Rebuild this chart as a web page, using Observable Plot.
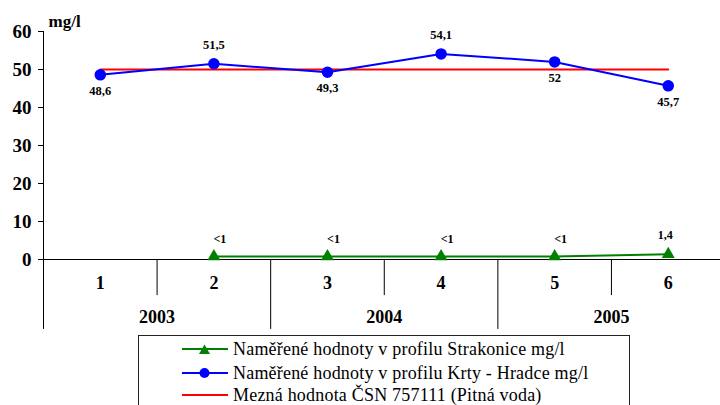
<!DOCTYPE html>
<html>
<head>
<meta charset="utf-8">
<script src="https://cdn.jsdelivr.net/npm/d3@7"></script>
<script src="https://cdn.jsdelivr.net/npm/@observablehq/plot@0.6"></script>
<style>
  html, body { margin: 0; padding: 0; background: #fff; overflow: hidden; }
  #wrap { position: relative; width: 720px; height: 405px; }
  #legend {
    position: absolute; left: 138px; top: 335px; width: 490px; height: 80px;
    border: 1px solid #222; background: #fff;
    font-family: "Liberation Serif", "Times New Roman", serif; font-size: 18px; letter-spacing: 0.2px; color: #000;
  }
  .row { position: absolute; left: 43px; height: 22px; display: flex; align-items: center; white-space: nowrap; }
  .row svg { margin-right: 5px; }
</style>
</head>
<body>
<div id="wrap"></div>
<script>
// ---- data ----
const categories = [1, 2, 3, 4, 5, 6];
const years = ["2003", "2004", "2005"];
const yearCenters = [1.5, 3.5, 5.5];
const shortSeparators = [1.5, 3.5, 5.5];
const longSeparators = [0.5, 2.5, 4.5];

const greenCats = [2, 3, 4, 5, 6];
const greenValues = [0.8, 0.8, 0.8, 0.8, 1.4];
const greenLabels = ["<1", "<1", "<1", "<1", "1,4"];

const blueValues = [48.6, 51.5, 49.3, 54.1, 52, 45.7];
const blueLabelAbove = [false, true, false, true, false, false];

const redValues = [50, 50, 50, 50, 50, 50];

const yTicks = [0, 10, 20, 30, 40, 50, 60];

const legendItems = [
  "Naměřené hodnoty v profilu Strakonice mg/l",
  "Naměřené hodnoty v profilu Krty - Hradce mg/l",
  "Mezná hodnota ČSN 757111 (Pitná voda)"
];

// ---- tables ----
const green = greenCats.map((c, i) => ({x: c, y: greenValues[i], label: greenLabels[i]}));
const blue = categories.map((c, i) => ({x: c, y: blueValues[i], label: String(blueValues[i]).replace(".", ","), above: blueLabelAbove[i]}));
const red = categories.map((c, i) => ({x: c, y: redValues[i]}));
const yearData = years.map((y, i) => ({x: yearCenters[i], label: y}));

const serif = "'Liberation Serif', 'Times New Roman', serif";
const GREEN = "#008000", BLUE = "#0000ff", RED = "#ff0000";

const chart = Plot.plot({
  width: 720,
  height: 335,
  marginLeft: 43,
  marginRight: 0,
  marginTop: 31,
  marginBottom: 76,
  style: {fontFamily: serif, background: "#fff", color: "#000"},
  x: {type: "linear", domain: [0.5, 6.46], axis: null},
  y: {domain: [0, 60], axis: null},
  marks: [
    Plot.axisY({ticks: yTicks, label: null, tickSize: 5, tickPadding: 7, fontSize: 19, fontWeight: "bold", tickFormat: d => d, stroke: "#000"}),
    // y axis line (extends down as the outer category separator)
    Plot.ruleX([0.5], {y1: 60, y2: -18.4, stroke: "#000", strokeWidth: 1}),
    // x axis baseline
    Plot.ruleY([0], {x1: 0.5, x2: 6.46, stroke: "#000", strokeWidth: 1.2}),
    // separators
    Plot.ruleX(shortSeparators, {y1: 0, y2: -9.5, stroke: "#000"}),
    Plot.ruleX(longSeparators.slice(1), {y1: 0, y2: -18.4, stroke: "#000"}),
    // category labels
    Plot.text(categories, {x: d => d, y: () => 0, dy: 24, text: d => String(d), fontSize: 18, fontWeight: "bold"}),
    Plot.text(yearData, {x: "x", y: () => 0, dy: 58, text: "label", fontSize: 18, fontWeight: "bold"}),
    // unit
    Plot.text(["mg/l"], {x: () => 0.5, y: () => 60, dx: 5, dy: -10, text: d => d, textAnchor: "start", fontSize: 17, fontWeight: "bold"}),
    // red limit
    Plot.line(red, {x: "x", y: "y", stroke: RED, strokeWidth: 2}),
    // blue series
    Plot.line(blue, {x: "x", y: "y", stroke: BLUE, strokeWidth: 2}),
    Plot.dot(blue, {x: "x", y: "y", r: 5, fill: BLUE, stroke: BLUE}),
    Plot.text(blue.filter(d => d.above), {x: "x", y: "y", text: "label", dy: -19, fontSize: 12.5, fontWeight: "bold"}),
    Plot.text(blue.filter(d => !d.above), {x: "x", y: "y", text: "label", dy: 16, fontSize: 12.5, fontWeight: "bold"}),
    // green series
    Plot.line(green, {x: "x", y: "y", stroke: GREEN, strokeWidth: 2}),
    Plot.dot(green, {x: "x", y: "y", symbol: "triangle", r: 4.8, fill: GREEN, stroke: "none"}),
    Plot.text(green.filter(d => d.label.startsWith("<")), {x: "x", y: "y", text: "label", dy: -17, dx: 6, fontSize: 12, fontWeight: "bold"}),
    Plot.text(green.filter(d => !d.label.startsWith("<")), {x: "x", y: "y", text: "label", dy: -19, dx: -3, fontSize: 12, fontWeight: "bold"})
  ]
});

const wrap = document.getElementById("wrap");
wrap.appendChild(chart);

// ---- legend ----
const legend = document.createElement("div");
legend.id = "legend";
const styles = [
  {color: GREEN, marker: "triangle"},
  {color: BLUE, marker: "circle"},
  {color: RED, marker: null}
];
const rowTops = [2, 26, 48];
legendItems.forEach((t, i) => {
  const row = document.createElement("div");
  row.className = "row";
  row.style.top = rowTops[i] + "px";
  const s = styles[i];
  let m = "";
  if (s.marker === "triangle") m = `<path d="M22.5,1.5 L28,11 L17,11 Z" fill="${s.color}"/>`;
  if (s.marker === "circle") m = `<circle cx="22.5" cy="6" r="5" fill="${s.color}"/>`;
  row.innerHTML = `<svg width="46" height="12"><line x1="0" y1="6" x2="46" y2="6" stroke="${s.color}" stroke-width="2"/>${m}</svg><span>${t}</span>`;
  legend.appendChild(row);
});
wrap.appendChild(legend);
</script>
</body>
</html>
